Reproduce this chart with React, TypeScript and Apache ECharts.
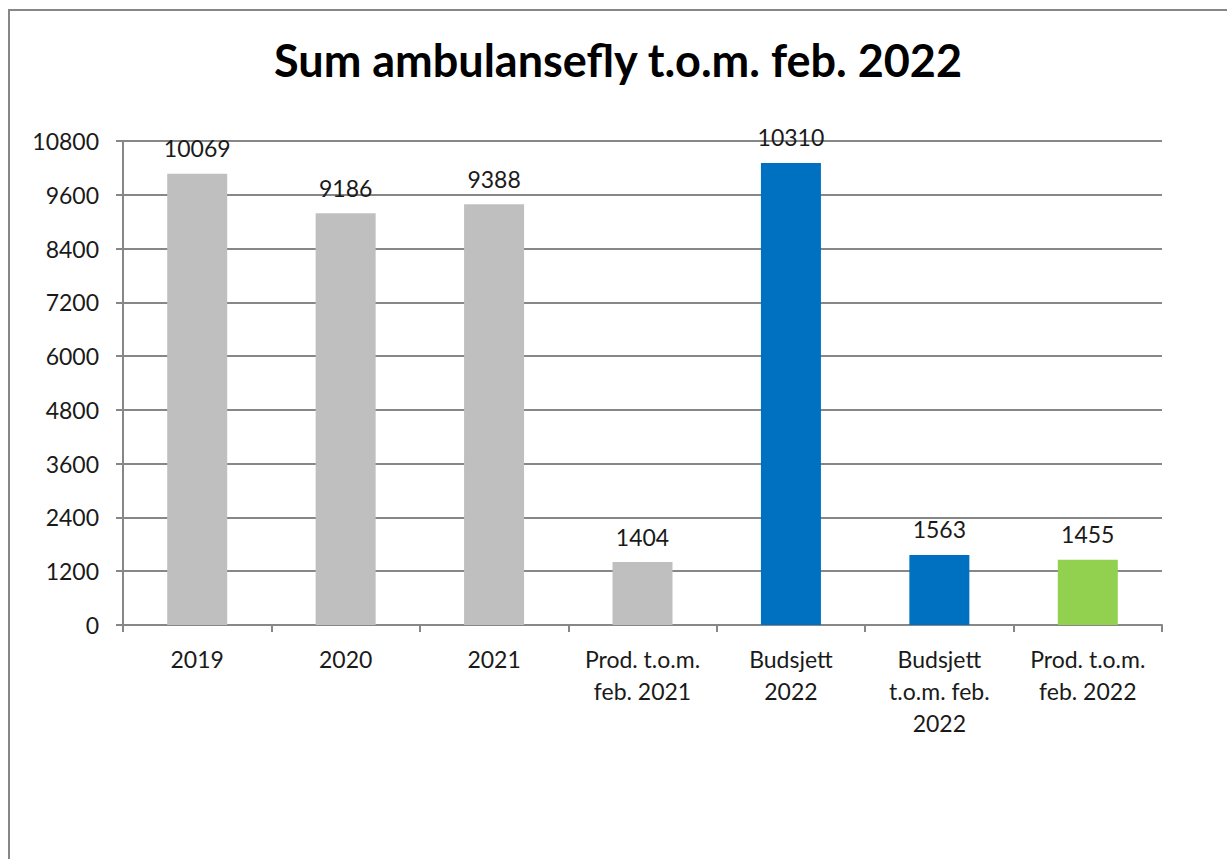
import React, { useEffect, useRef } from "react";
import * as echarts from "echarts";

const categories = [
  "2019",
  "2020",
  "2021",
  "Prod. t.o.m.\nfeb. 2021",
  "Budsjett\n2022",
  "Budsjett\nt.o.m. feb.\n2022",
  "Prod. t.o.m.\nfeb. 2022",
];
const values = [10069, 9186, 9388, 1404, 10310, 1563, 1455];
const barColors = ["#BFBFBF", "#BFBFBF", "#BFBFBF", "#BFBFBF", "#0070C0", "#0070C0", "#92D050"];
const titleText = "Sum ambulansefly t.o.m. feb. 2022";

const FONT = "Lato, 'Noto Sans', sans-serif";

export default function App() {
  const ref = useRef<HTMLDivElement>(null);
  useEffect(() => {
    if (!ref.current) return;
    const chart = echarts.init(ref.current, null, { renderer: "svg" });
    chart.setOption({
      animation: false,
      backgroundColor: "#ffffff",
      graphic: [
        {
          type: "rect",
          shape: { x: 9, y: 10, width: 1300, height: 900 },
          style: { fill: "none", stroke: "#878787", lineWidth: 2 },
          silent: true,
        },
        {
          type: "text",
          x: 618,
          y: 60,
          style: {
            text: titleText,
            font: `bold 45px ${FONT}`,
            fill: "#000000",
            textAlign: "center",
            textVerticalAlign: "middle",
          },
        },
      ],
      grid: { left: 123, right: 65, top: 141, bottom: 234, containLabel: false },
      xAxis: {
        type: "category",
        data: categories,
        boundaryGap: true,
        axisLine: { show: true, lineStyle: { color: "#878787", width: 2 } },
        axisTick: { show: true, alignWithLabel: false, length: 7, lineStyle: { color: "#878787", width: 2 } },
        axisLabel: {
          interval: 0,
          color: "#1a1a1a",
          fontFamily: FONT,
          fontSize: 23,
          lineHeight: 32,
          margin: 18,
          verticalAlign: "top",
        },
      },
      yAxis: {
        type: "value",
        min: 0,
        max: 10800,
        interval: 1200,
        axisLine: { show: true, lineStyle: { color: "#878787", width: 2 } },
        axisTick: { show: true, length: 7, lineStyle: { color: "#878787", width: 2 } },
        splitLine: { show: true, lineStyle: { color: "#878787", width: 2 } },
        axisLabel: {
          color: "#1a1a1a",
          fontFamily: FONT,
          fontSize: 23,
          margin: 24,
          formatter: (v: number) => String(v),
        },
      },
      series: [
        {
          type: "bar",
          barWidth: 60,
          data: values.map((v, i) => ({ value: v, itemStyle: { color: barColors[i] } })),
          label: {
            show: true,
            position: "top",
            distance: 14,
            color: "#1a1a1a",
            fontFamily: FONT,
            fontSize: 23,
          },
        },
      ],
    });
    return () => chart.dispose();
  }, []);
  return (
    <div
      ref={ref}
      style={{ position: "fixed", left: 0, top: 0, width: 1227, height: 859 }}
    />
  );
}
